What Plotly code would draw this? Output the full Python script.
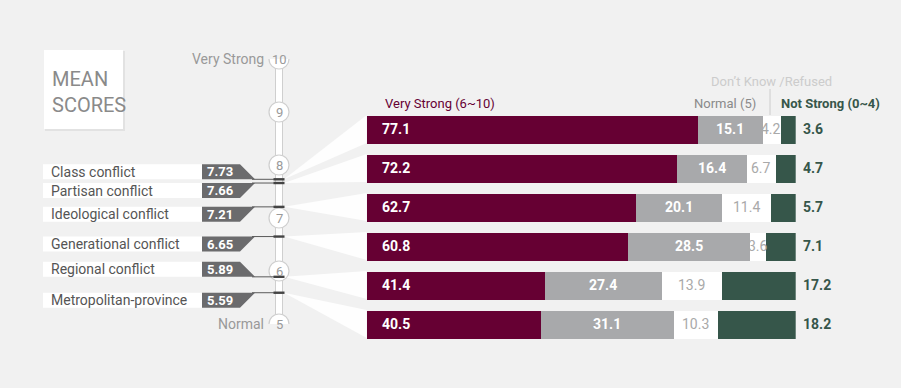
import plotly.graph_objects as go

# ---------------- data ----------------
categories = ["Class conflict", "Partisan conflict", "Ideological conflict",
              "Generational conflict", "Regional conflict", "Metropolitan-province"]
mean_scores = [7.73, 7.66, 7.21, 6.65, 5.89, 5.59]
very_strong = [77.1, 72.2, 62.7, 60.8, 41.4, 40.5]
normal = [15.1, 16.4, 20.1, 28.5, 27.4, 31.1]
dont_know = [4.2, 6.7, 11.4, 3.6, 13.9, 10.3]
not_strong = [3.6, 4.7, 5.7, 7.1, 17.2, 18.2]
scale_ticks = [5, 6, 7, 8, 9, 10]
series_names = ["Very Strong (6~10)", "Normal (5)", "Don\u2019t Know /Refused", "Not Strong (0~4)"]

# ---------------- style / layout ----------------
W, H = 901, 388
BG = "#f1f1f1"
C_VS = "#660033"
C_N = "#a8a9ab"
C_DK = "#ffffff"
C_NS = "#36564a"
FONT = "Roboto, Liberation Sans, sans-serif"
box_above = [True, False, False, False, True, False]


def px(x):
    return x / W


def py(y):
    return 1 - y / H


# bar axis geometry (pixels)
bar_x0, bar_x1 = 366.7, 795.7
row_top, row_pitch = 109.5, 39.0
n = len(categories)
bar_w = 28 / row_pitch
ydom = [py(row_top + n * row_pitch), py(row_top)]

# scale axis geometry
scale_px_lo, scale_px_hi = 324, 59  # y pixel of 5 and 10
y2dom = [py(scale_px_lo), py(scale_px_hi)]
SCALE_X = 279


def bar_paper_y(v):
    # reversed range [n-0.5, -0.5]
    return ydom[0] + ((n - 0.5) - v) / n * (ydom[1] - ydom[0])


def scale_paper_y(s):
    return y2dom[0] + (s - 5) / 5 * (y2dom[1] - y2dom[0])


fig = go.Figure()
ys = list(range(n))
base = [0] * n
for vals, col in [(very_strong, C_VS), (normal, C_N), (dont_know, C_DK), (not_strong, C_NS)]:
    fig.add_trace(go.Bar(
        x=vals, y=ys, base=list(base), orientation="h", width=bar_w,
        marker=dict(color=col, line=dict(width=0)), showlegend=False,
        hoverinfo="skip", xaxis="x", yaxis="y"))
    base = [b + v for b, v in zip(base, vals)]
totals = base

# invisible trace for scale axis
fig.add_trace(go.Scatter(x=[SCALE_X] * n, y=mean_scores, mode="markers",
                         marker=dict(size=1, opacity=0), xaxis="x2", yaxis="y2",
                         showlegend=False, hoverinfo="skip"))

shapes = []
annotations = []

# fans
for i, s in enumerate(mean_scores):
    x0 = px(SCALE_X + 5)
    y0 = scale_paper_y(s)
    x1 = px(bar_x0)
    yt = bar_paper_y(i - bar_w / 2)
    yb = bar_paper_y(i + bar_w / 2)
    shapes.append(dict(type="path", xref="paper", yref="paper",
                       path=f"M {x0} {y0} L {x1} {yt} L {x1} {yb} Z",
                       fillcolor="rgba(255,255,255,0.88)", line=dict(width=0), layer="below"))

# scale line
u = 5 / (scale_px_lo - scale_px_hi)  # units per pixel
shapes.append(dict(type="rect", xref="x2", yref="y2", x0=SCALE_X - 3.5, x1=SCALE_X + 3.5,
                   y0=5, y1=10, fillcolor="white", line=dict(color="#cfcfcf", width=1)))
for t in scale_ticks:
    shapes.append(dict(type="circle", xref="x2", yref="y2",
                       x0=SCALE_X - 10, x1=SCALE_X + 10, y0=t - 10 * u, y1=t + 10 * u,
                       fillcolor="white", line=dict(color="#cfcfcf", width=1.2)))
    annotations.append(dict(xref="x2", yref="y2", x=SCALE_X, y=t, text=str(t), showarrow=False,
                            yanchor="middle", xanchor="center",
                            font=dict(family=FONT, size=13, color="#9a9a9a")))
annotations.append(dict(xref="x2", yref="y2", x=SCALE_X - 13, y=10, text="Very Strong",
                        xanchor="right", yanchor="middle", showarrow=False,
                        font=dict(family=FONT, size=14, color="#999999")))
annotations.append(dict(xref="x2", yref="y2", x=SCALE_X - 13, y=5, text="Normal",
                        xanchor="right", yanchor="middle", showarrow=False,
                        font=dict(family=FONT, size=14, color="#999999")))

# left labels, value boxes, connectors, markers
box_h = 15 * u
for i, (cat, s) in enumerate(zip(categories, mean_scores)):
    if box_above[i]:
        y_lo, y_hi = s, s + box_h
        path = f"M 202 {y_lo} L 255 {y_lo} L 240 {y_hi} L 202 {y_hi} Z"
    else:
        y_lo, y_hi = s - box_h, s
        path = f"M 202 {y_hi} L 255 {y_hi} L 240 {y_lo} L 202 {y_lo} Z"
    shapes.append(dict(type="rect", xref="x2", yref="y2", x0=43, x1=202, y0=y_lo, y1=y_hi,
                       fillcolor="white", line=dict(width=0)))
    shapes.append(dict(type="path", xref="x2", yref="y2", path=path,
                       fillcolor="#6b6b6d", line=dict(width=0)))
    shapes.append(dict(type="line", xref="x2", yref="y2", x0=252, x1=SCALE_X + 3, y0=s, y1=s,
                       line=dict(color="#5a5a5a", width=1)))
    shapes.append(dict(type="rect", xref="x2", yref="y2", x0=SCALE_X - 5.5, x1=SCALE_X + 5.5,
                       y0=s - 1.2 * u, y1=s + 1.2 * u, fillcolor="#444444", line=dict(width=0)))
    yc = (y_lo + y_hi) / 2
    annotations.append(dict(xref="x2", yref="y2", x=49, y=yc, text=cat, xanchor="left",
                            yanchor="middle", showarrow=False,
                            font=dict(family=FONT, size=14, color="#555555")))
    annotations.append(dict(xref="x2", yref="y2", x=205, y=yc, text=f"<b>{s:.2f}</b>", xanchor="left",
                            yanchor="middle", showarrow=False,
                            font=dict(family=FONT, size=13, color="white")))

# bar value labels
x_scale = (bar_x1 - bar_x0) / 100.0
for i in range(n):
    annotations.append(dict(xref="x", yref="y", x=3.2, y=i, text=f"<b>{very_strong[i]}</b>",
                            xanchor="left", yanchor="middle", showarrow=False,
                            font=dict(family=FONT, size=14, color="white")))
    annotations.append(dict(xref="x", yref="y", x=very_strong[i] + normal[i] / 2, y=i,
                            text=f"<b>{normal[i]}</b>", showarrow=False,
                            xanchor="center", yanchor="middle",
                            font=dict(family=FONT, size=14, color="white")))
    annotations.append(dict(xref="x", yref="y", x=very_strong[i] + normal[i] + dont_know[i] / 2, y=i,
                            text=f"{dont_know[i]}", showarrow=False,
                            xanchor="center", yanchor="middle",
                            font=dict(family=FONT, size=14, color="#a9a9a9")))
    # outside-bar label: position from the bar end (axis value -> paper)
    end_px = bar_x0 + max(totals[i], 100.0) * x_scale
    annotations.append(dict(xref="paper", yref="paper", x=px(end_px + 5), y=bar_paper_y(i),
                            text=f"<b>{not_strong[i]}</b>",
                            xanchor="left", yanchor="middle", showarrow=False,
                            font=dict(family=FONT, size=14, color=C_NS)))

# headers
annotations += [
    dict(xref="paper", yref="paper", x=px(383), y=py(104), text=series_names[0], xanchor="left",
         yanchor="middle", showarrow=False, font=dict(family=FONT, size=13, color=C_VS)),
    dict(xref="paper", yref="paper", x=px(758), y=py(104), text=series_names[1], xanchor="right",
         yanchor="middle", showarrow=False, font=dict(family=FONT, size=13, color="#8a8a8a")),
    dict(xref="paper", yref="paper", x=px(771), y=py(81), text=series_names[2], xanchor="center",
         yanchor="middle", showarrow=False, font=dict(family=FONT, size=13, color="#cccccc")),
    dict(xref="paper", yref="paper", x=px(779), y=py(104), text=f"<b>{series_names[3]}</b>", xanchor="left",
         yanchor="middle", showarrow=False, font=dict(family=FONT, size=13, color=C_NS)),
]
shapes.append(dict(type="line", xref="paper", yref="paper", x0=px(770), x1=px(770), y0=py(89), y1=py(115),
                   line=dict(color="#cccccc", width=1)))

# MEAN SCORES box
shapes.append(dict(type="rect", xref="paper", yref="paper", x0=px(45), x1=px(125), y0=py(131), y1=py(51),
                   fillcolor="#e2e2e2", line=dict(width=0)))
shapes.append(dict(type="rect", xref="paper", yref="paper", x0=px(44), x1=px(123), y0=py(129), y1=py(50),
                   fillcolor="white", line=dict(width=0)))
annotations.append(dict(xref="paper", yref="paper", x=px(50), y=py(92), text="MEAN<br>SCORES",
                        xanchor="left", yanchor="middle", align="left", showarrow=False,
                        font=dict(family=FONT, size=20, color="#8a8a8a")))

fig.update_layout(
    width=W, height=H, margin=dict(l=0, r=0, t=0, b=0),
    paper_bgcolor=BG, plot_bgcolor="rgba(0,0,0,0)",
    barmode="overlay", bargap=0,
    xaxis=dict(domain=[px(bar_x0), px(bar_x1)], range=[0, 100], visible=False, fixedrange=True),
    yaxis=dict(domain=ydom, range=[n - 0.5, -0.5], visible=False, fixedrange=True),
    xaxis2=dict(domain=[0, 1], range=[0, W], visible=False, anchor="y2", fixedrange=True),
    yaxis2=dict(domain=y2dom, range=[5, 10], visible=False, anchor="x2", fixedrange=True),
    shapes=shapes, annotations=annotations, showlegend=False,
)

fig.write_html("out.html", config={"displayModeBar": False},
               post_script="document.body.style.margin='0';document.body.style.padding='0';"
                           "document.body.style.background='" + BG + "';")
